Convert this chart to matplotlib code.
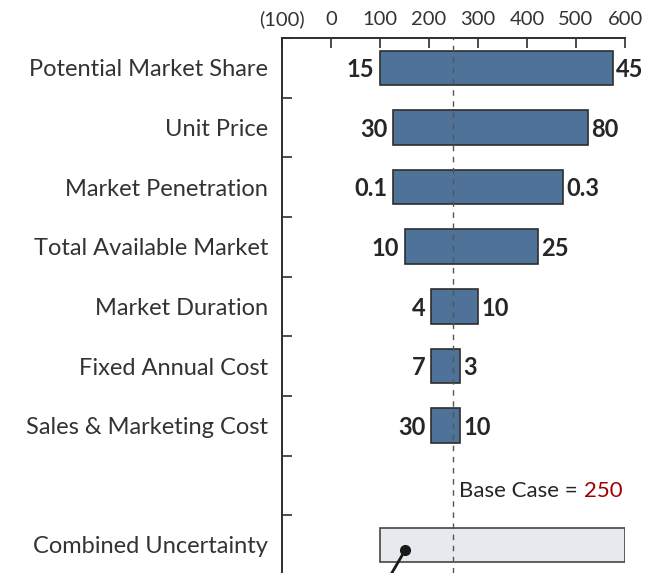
import matplotlib.pyplot as plt

plt.rcParams['font.family'] = ['Lato', 'DejaVu Sans']

# tornado chart data (x axis in thousands, base case 250)
categories = ["Potential Market Share", "Unit Price", "Market Penetration",
              "Total Available Market", "Market Duration", "Fixed Annual Cost",
              "Sales & Marketing Cost", "", "Combined Uncertainty"]
low_values = [100, 127, 127, 151, 205, 205, 205]
high_values = [575, 525, 474, 422, 301, 264, 264]
low_labels = ["15", "30", "0.1", "10", "4", "7", "30"]
high_labels = ["45", "80", "0.3", "25", "10", "3", "10"]
combined_range = [100, 600]
base_case = 250
tick_values = [-100, 0, 100, 200, 300, 400, 500, 600]
tick_labels = ["(100)", "0", "100", "200", "300", "400", "500", "600"]
callout_dot = (152, 8.08)
callout_end = (108, 8.7)

bar_color = "#4e7298"
edge_color = "#2e2e2e"
text_color = "#262626"

fig = plt.figure(figsize=(6.71, 5.73), dpi=100)
ax = fig.add_axes([0.42, 0.0, 0.5115, 0.9337])

n = len(low_values)
for i in range(n):
    ax.barh(i, high_values[i] - low_values[i], left=low_values[i], height=0.58,
            color=bar_color, edgecolor=edge_color, linewidth=1.2, zorder=2)
    ax.text(low_values[i] - 12, i + 0.03, low_labels[i], ha="right", va="center",
            fontsize=17, fontweight="bold", color=text_color)
    ax.text(high_values[i] + 6, i + 0.03, high_labels[i], ha="left", va="center",
            fontsize=17, fontweight="bold", color=text_color)

ax.barh(8, combined_range[1] - combined_range[0], left=combined_range[0],
        height=0.58, color="#e6e9ee", edgecolor="#444444", linewidth=1.2, zorder=2)

ax.axvline(base_case, color="#555555", linestyle=(0, (4, 4)), linewidth=1.0, zorder=3)

t = ax.text(base_case + 12, 7.1, "Base Case = ", ha="left", va="center",
            fontsize=16, color=text_color)
ax.annotate(str(base_case), xy=(1, 0), xycoords=t, va="bottom", ha="left",
            fontsize=16, color="#a00000")

ax.plot([callout_dot[0], callout_end[0]], [callout_dot[1], callout_end[1]],
        color="#1a1a1a", linewidth=2, zorder=4)
ax.plot(callout_dot[0], callout_dot[1], "o", color="#1a1a1a", markersize=7, zorder=4)

ax.set_xlim(-100, 600)
ax.set_ylim(8.47, -0.5)
ax.set_xticks(tick_values)
ax.set_xticklabels(tick_labels)
ax.xaxis.tick_top()
ax.tick_params(axis="x", direction="in", length=7, width=1.2, pad=7,
               labelsize=14.5, labelcolor="#333333", color=edge_color)

ax.set_yticks(range(len(categories)))
ax.set_yticklabels(categories, fontsize=17, color="#333333")
ax.set_yticks([k + 0.5 for k in range(-1, 8)], minor=True)
ax.tick_params(axis="y", which="major", length=0, pad=10)
ax.tick_params(axis="y", which="minor", direction="in", length=7, width=1.2,
               color=edge_color)

for side in ["right", "bottom"]:
    ax.spines[side].set_visible(False)
for side in ["top", "left"]:
    ax.spines[side].set_linewidth(1.4)
    ax.spines[side].set_color(edge_color)

plt.savefig("out.png", dpi=100)
